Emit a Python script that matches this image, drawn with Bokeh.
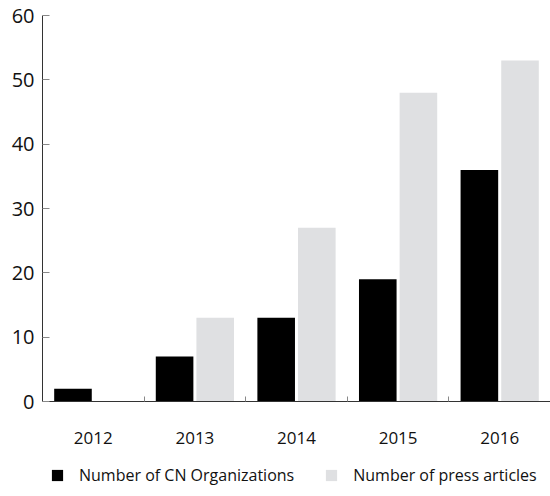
from bokeh.plotting import figure
from bokeh.models import Range1d, FixedTicker, Legend, LegendItem, ColumnDataSource, LinearAxis
from bokeh.embed import file_html
from bokeh.resources import INLINE

years = ["2012", "2013", "2014", "2015", "2016"]
organizations = [2, 7, 13, 19, 36]
press_articles = [0, 13, 27, 48, 53]
y_ticks = [0, 10, 20, 30, 40, 50, 60]

FONT = "Open Sans"
centers = [i + 0.5 for i in range(len(years))]
bounds = [i for i in range(1, len(years))]

src = ColumnDataSource(dict(
    x_org=[c - 0.2 for c in centers],
    x_press=[c + 0.2 for c in centers],
    org=organizations,
    press=press_articles,
))

# frame spans the full height; the value axis covers 0..60, space below holds labels and legend
px_per_unit = 386 / 60
y_start = -95 / px_per_unit

p = figure(width=550, height=496, output_backend="svg", toolbar_location=None,
           x_range=Range1d(0, len(years)), y_range=Range1d(y_start, 60),
           x_axis_location=None,
           min_border_left=42, min_border_right=0, min_border_top=15,
           min_border_bottom=0)
p.outline_line_color = None
p.grid.grid_line_color = None
p.background_fill_color = "white"
p.border_fill_color = "white"

r1 = p.vbar(x="x_org", top="org", width=0.37, source=src,
            fill_color="#000000", line_color=None)
r2 = p.vbar(x="x_press", top="press", width=0.37, source=src,
            fill_color="#dfe0e2", line_color=None)

xa = LinearAxis(fixed_location=0)
xa.ticker = FixedTicker(ticks=centers, minor_ticks=bounds)
xa.major_label_overrides = {c: y for c, y in zip(centers, years)}
xa.major_tick_line_color = None
xa.minor_tick_in = 5
xa.minor_tick_out = 0
xa.minor_tick_line_color = "#888888"
xa.axis_line_color = "#333333"
xa.major_label_standoff = 24
xa.major_label_text_font = FONT
xa.major_label_text_font_size = "17px"
xa.major_label_text_color = "#111111"
p.add_layout(xa, "below")

ya = p.yaxis[0]
ya.bounds = (0, 60)
ya.ticker = FixedTicker(ticks=y_ticks)
ya.minor_tick_line_color = None
ya.major_tick_in = 7
ya.major_tick_out = 0
ya.major_tick_line_color = "#888888"
ya.axis_line_color = "#333333"
ya.major_label_standoff = 8
ya.major_label_text_font = FONT
ya.major_label_text_font_size = "20px"
ya.major_label_text_color = "#111111"

legend = Legend(items=[
    LegendItem(label="Number of CN Organizations", renderers=[r1]),
    LegendItem(label="Number of press articles", renderers=[r2]),
], orientation="horizontal", location=(8, 10),
    label_text_font=FONT, label_text_font_size="16px", label_text_color="#111111",
    glyph_width=14, glyph_height=14, spacing=30, label_standoff=15,
    border_line_color=None, background_fill_alpha=0, margin=0, padding=0)
p.add_layout(legend)

open("out.html", "w").write(file_html(p, INLINE))
